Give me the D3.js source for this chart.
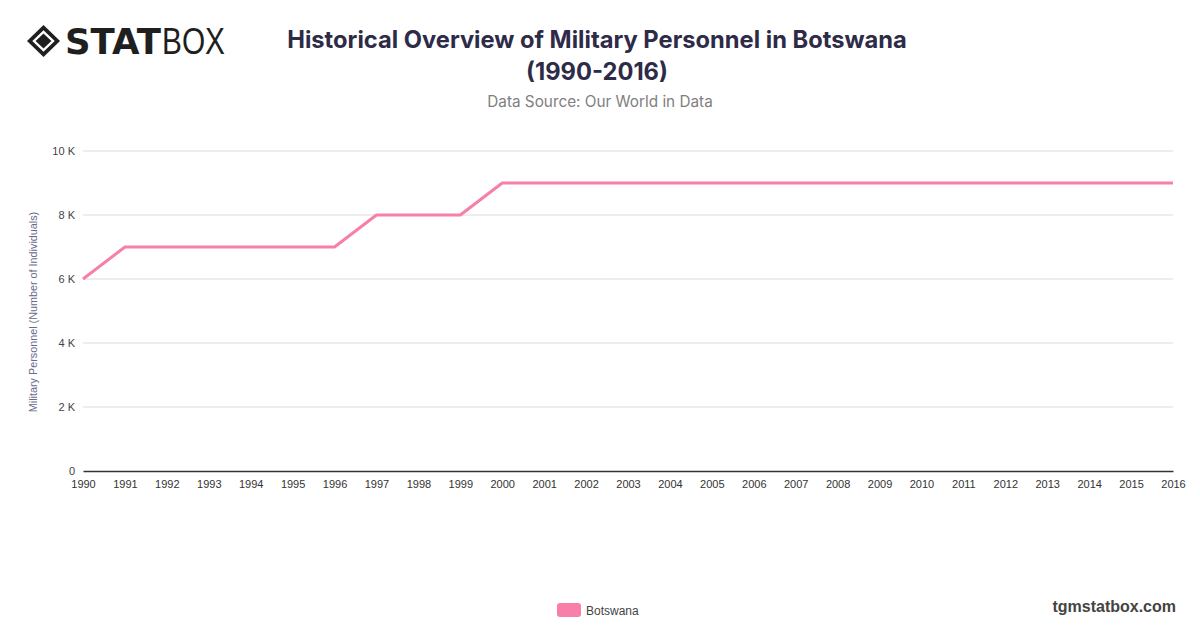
<!DOCTYPE html>
<html>
<head>
<meta charset="utf-8">
<script src="https://cdn.jsdelivr.net/npm/d3@7"></script>
<style>
  body { margin: 0; background: #fff; font-family: "Liberation Sans", Arial, sans-serif; }
</style>
</head>
<body>
<div class="chart"></div>
<script>
const years = d3.range(1990, 2017);
const personnel = [6000, 7000, 7000, 7000, 7000, 7000, 7000, 8000, 8000, 8000,
                   9000, 9000, 9000, 9000, 9000, 9000, 9000, 9000, 9000, 9000,
                   9000, 9000, 9000, 9000, 9000, 9000, 9000];
const yTicks = [0, 2000, 4000, 6000, 8000, 10000];
const seriesName = "Botswana";

const w = 1200;
const h = 628;
const plotLeft = 83, plotRight = 1173, plotTop = 151, plotBottom = 471;
const pink = "#f77fa9";

let svg = d3.select(".chart").append("svg")
    .attr("width", w)
    .attr("height", h);

// logo
let logo = svg.append("g").attr("transform", "translate(27,41)");
logo.append("path")
    .attr("d", "M0,0 L16.5,-16 L33,0 L16.5,16 Z")
    .attr("fill", "#1f1f1f");
logo.append("path")
    .attr("d", "M7,0 L16.5,-9 L26,0 L16.5,9 Z")
    .attr("fill", "none")
    .attr("stroke", "#fff")
    .attr("stroke-width", 2.4);
logo.append("text")
    .attr("x", 38).attr("y", 13)
    .attr("font-size", 36).attr("font-weight", 900)
    .attr("font-family", "'DejaVu Sans', sans-serif")
    .attr("textLength", 96)
    .attr("lengthAdjust", "spacingAndGlyphs")
    .attr("fill", "#1f1f1f")
    .text("STAT");
logo.append("text")
    .attr("x", 135).attr("y", 13)
    .attr("font-size", 36).attr("font-weight", 300)
    .attr("font-family", "'Liberation Sans', sans-serif")
    .attr("textLength", 63)
    .attr("lengthAdjust", "spacingAndGlyphs")
    .attr("fill", "#1f1f1f")
    .text("BOX");

// titles
svg.append("text")
    .attr("x", 597).attr("y", 48)
    .attr("text-anchor", "middle")
    .attr("font-size", 23.7).attr("font-weight", "bold")
    .attr("font-family", "Inter, sans-serif")
    .attr("fill", "#2e2b48")
    .text("Historical Overview of Military Personnel in Botswana");
svg.append("text")
    .attr("x", 597).attr("y", 80)
    .attr("text-anchor", "middle")
    .attr("font-size", 23.7).attr("font-weight", "bold")
    .attr("font-family", "Inter, sans-serif")
    .attr("fill", "#2e2b48")
    .text("(1990-2016)");
svg.append("text")
    .attr("x", 600).attr("y", 107)
    .attr("text-anchor", "middle")
    .attr("font-size", 15.3)
    .attr("font-family", "Inter, sans-serif")
    .attr("fill", "#808080")
    .text("Data Source: Our World in Data");

// scales
let x = d3.scalePoint().domain(years).range([plotLeft, plotRight]);
let y = d3.scaleLinear().domain([0, 10000]).range([plotBottom, plotTop]);

// grid
svg.append("g")
    .selectAll("line")
    .data(yTicks.filter(d => d > 0))
    .enter().append("line")
    .attr("x1", plotLeft).attr("x2", plotRight)
    .attr("y1", d => y(d)).attr("y2", d => y(d))
    .attr("stroke", "#dcdcdc").attr("stroke-width", 1);

// y axis
const yAxis = d3.axisLeft(y).tickValues(yTicks).tickSize(0).tickPadding(8)
    .tickFormat(d => d === 0 ? "0" : (d / 1000) + " K");
let ya = svg.append("g").attr("transform", "translate(" + plotLeft + ",0)").call(yAxis);
ya.select(".domain").remove();
ya.selectAll("text").attr("font-size", 11).attr("fill", "#444")
    .attr("font-family", "'Liberation Sans', Arial, sans-serif");

// x axis
const xAxis = d3.axisBottom(x).tickSize(0).tickPadding(9).tickFormat(d3.format("d"));
let xa = svg.append("g").attr("transform", "translate(0," + plotBottom + ")").call(xAxis);
xa.select(".domain").attr("stroke", "#333").attr("stroke-width", 1.3);
xa.selectAll("text").attr("font-size", 11).attr("fill", "#333")
    .attr("font-family", "'Liberation Sans', Arial, sans-serif");

svg.append("text")
    .attr("transform", "translate(37," + 312 + ") rotate(-90)")
    .attr("text-anchor", "middle")
    .attr("font-size", 10.8)
    .attr("font-family", "'Liberation Sans', Arial, sans-serif")
    .attr("fill", "#6b6a8a")
    .text("Military Personnel (Number of Individuals)");

// line
const line = d3.line().x((d, i) => x(years[i])).y(d => y(d));
svg.append("path")
    .datum(personnel)
    .attr("d", line)
    .attr("fill", "none")
    .attr("stroke", pink)
    .attr("stroke-width", 3)
    .attr("stroke-linejoin", "round");

// legend
svg.append("rect")
    .attr("x", 557).attr("y", 603).attr("width", 24).attr("height", 14)
    .attr("rx", 3).attr("fill", pink);
svg.append("text")
    .attr("x", 586).attr("y", 614.5)
    .attr("font-size", 12)
    .attr("font-family", "'Liberation Sans', Arial, sans-serif")
    .attr("fill", "#444")
    .text(seriesName);

svg.append("text")
    .attr("x", 1176).attr("y", 612)
    .attr("text-anchor", "end")
    .attr("font-size", 16).attr("font-weight", "bold")
    .attr("font-family", "'Liberation Sans', Arial, sans-serif")
    .attr("fill", "#444")
    .text("tgmstatbox.com");
</script>
</body>
</html>
